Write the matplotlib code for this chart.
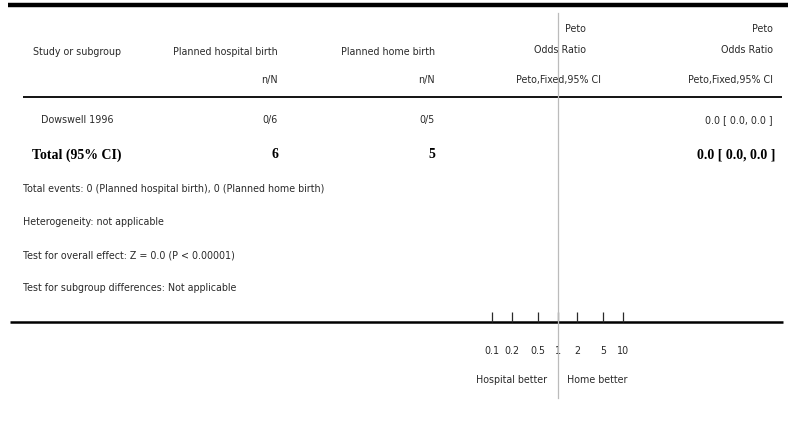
import matplotlib
matplotlib.use("Agg")
from matplotlib import pyplot as plt

# data
studies = ["Dowswell 1996"]
hosp_events = [0]
hosp_total = [6]
home_events = [0]
home_total = [5]
or_text = ["0.0 [ 0.0, 0.0 ]"]
total_hosp = 6
total_home = 5
total_or_text = "0.0 [ 0.0, 0.0 ]"
footnotes = [
    "Total events: 0 (Planned hospital birth), 0 (Planned home birth)",
    "Heterogeneity: not applicable",
    "Test for overall effect: Z = 0.0 (P < 0.00001)",
    "Test for subgroup differences: Not applicable",
]
axis_ticks = [0.1, 0.2, 0.5, 1, 2, 5, 10]
axis_ticklabels = ["0.1", "0.2", "0.5", "1", "2", "5", "10"]
favours = ["Hospital better", "Home better"]

W, H = 788, 426
sans = ["DejaVu Sans"]
serif = ["Liberation Serif", "DejaVu Serif"]
tc = "#2a2a2a"
fs = 7.7
stretch = "condensed"

fig = plt.figure(figsize=(W / 100, H / 100), dpi=100)

# pixel overlay for the table
ax0 = fig.add_axes([0, 0, 1, 1])
ax0.set_xlim(0, W)
ax0.set_ylim(H, 0)
ax0.axis("off")


def txt(x, y, s, ha="left", **kw):
    kw.setdefault("family", sans)
    kw.setdefault("fontsize", fs)
    kw.setdefault("color", tc)
    kw.setdefault("fontstretch", stretch)
    ax0.text(x, y, s, ha=ha, va="center", **kw)


ax0.plot([8, W], [5, 5], color="black", lw=3.2, solid_capstyle="butt")
ax0.plot([23, 782], [97, 97], color="black", lw=1.3, solid_capstyle="butt")
ax0.plot([10, 783], [322, 322], color="black", lw=1.8, solid_capstyle="butt")

# header
txt(77, 52, "Study or subgroup", ha="center")
txt(278, 52, "Planned hospital birth", ha="right")
txt(435, 52, "Planned home birth", ha="right")
txt(586, 29, "Peto", ha="right")
txt(586, 50, "Odds Ratio", ha="right")
txt(773, 29, "Peto", ha="right")
txt(773, 50, "Odds Ratio", ha="right")
txt(278, 80, "n/N", ha="right")
txt(435, 80, "n/N", ha="right")
txt(559, 80, "Peto,Fixed,95% CI", ha="center")
txt(773, 80, "Peto,Fixed,95% CI", ha="right")

# study rows
for i, name in enumerate(studies):
    y = 120 + i * 30
    txt(77, y, name, ha="center")
    txt(278, y, "%d/%d" % (hosp_events[i], hosp_total[i]), ha="right")
    txt(435, y, "%d/%d" % (home_events[i], home_total[i]), ha="right")
    txt(773, y, or_text[i], ha="right")

# total row
bold = dict(family=serif, fontsize=10, fontweight="bold", color="black",
            fontstretch="normal")
txt(32, 155, "Total (95% CI)", **bold)
txt(278, 155, str(total_hosp), ha="right", **bold)
txt(435, 155, str(total_home), ha="right", **bold)
txt(775, 155, total_or_text, ha="right", **bold)

for i, s in enumerate(footnotes):
    txt(23, 189 + i * 33, s)

txt(547, 380, favours[0], ha="right")
txt(567, 380, favours[1], ha="left")

# forest axis (log scale)
x0, x1 = 492, 623
ytop, ybot = 13, 322
ax = fig.add_axes([x0 / W, (H - ybot) / H, (x1 - x0) / W, (ybot - ytop) / H])
ax.patch.set_alpha(0)
ax.set_xscale("log")
ax.set_xlim(axis_ticks[0], axis_ticks[-1])
ax.set_ylim(0, 1)
for s in ax.spines.values():
    s.set_visible(False)
ax.set_yticks([])
ax.set_xticks(axis_ticks)
ax.set_xticklabels(axis_ticklabels, family=sans, fontsize=fs, color=tc,
                   fontstretch=stretch)
ax.minorticks_off()
ax.tick_params(axis="x", direction="in", length=7, width=0.9, pad=17, colors=tc)
ax.axvline(1, ymin=-(398 - ybot) / (ybot - ytop), ymax=1, color="#bbbbbb",
           lw=0.9, clip_on=False)

fig.savefig("out.png", dpi=100)
